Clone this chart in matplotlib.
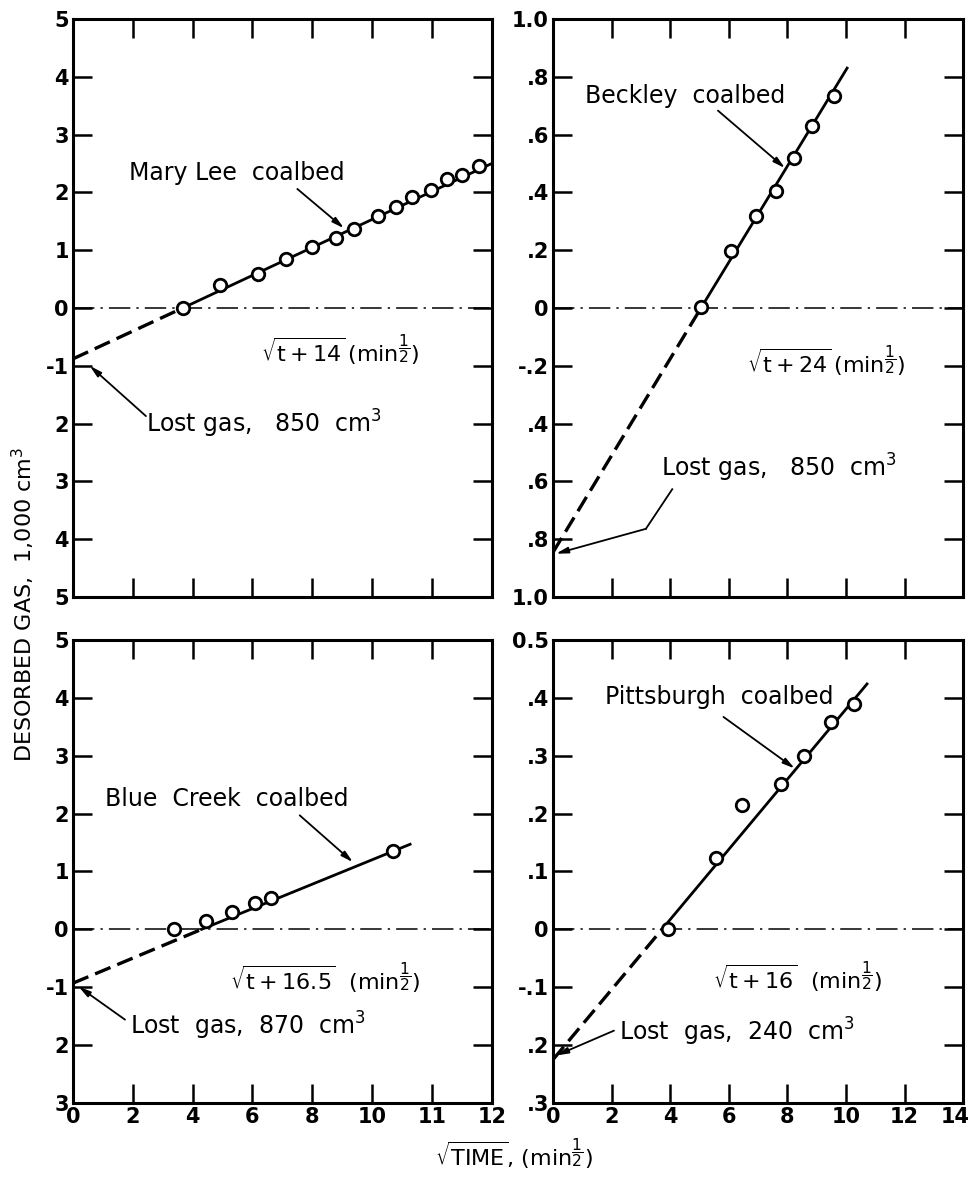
import matplotlib
matplotlib.use('Agg')
import matplotlib.pyplot as plt
import matplotlib.transforms as mtransforms

plt.rcParams['font.family'] = 'DejaVu Sans'
plt.rcParams['mathtext.fontset'] = 'dejavusans'

# ---- data ----
# Mary Lee coalbed, sqrt(t+14)
mary_x = [3.67, 4.9, 6.19, 7.12, 8.0, 8.78, 9.39, 10.19, 10.8, 11.33, 11.97, 12.52, 13.0, 13.58]
mary_y = [0.0, 0.39, 0.59, 0.84, 1.05, 1.21, 1.36, 1.59, 1.75, 1.92, 2.04, 2.23, 2.30, 2.46]
mary_fit_x = [0.0, 3.67, 14.0]
mary_fit_y = [-0.88, 0.0, 2.5]

# Beckley coalbed, sqrt(t+24)
beck_x = [5.05, 6.08, 6.92, 7.6, 8.22, 8.83, 9.6]
beck_y = [0.004, 0.196, 0.319, 0.406, 0.519, 0.63, 0.735]
beck_fit_x = [0.0, 5.05, 10.04]
beck_fit_y = [-0.845, 0.0, 0.83]

# Blue Creek coalbed, sqrt(t+16.5)
blue_x = [3.39, 4.44, 5.3, 6.08, 6.63, 10.69]
blue_y = [0.0, 0.14, 0.30, 0.45, 0.55, 1.36]
blue_fit_x = [0.0, 4.3, 11.27]
blue_fit_y = [-0.93, 0.0, 1.47]

# Pittsburgh coalbed, sqrt(t+16)
pitt_x = [3.92, 5.57, 6.44, 7.79, 8.57, 9.48, 10.27]
pitt_y = [0.0, 0.123, 0.215, 0.251, 0.30, 0.358, 0.389]
pitt_fit_x = [0.0, 3.72, 10.72]
pitt_fit_y = [-0.225, 0.0, 0.424]

xticks = [0, 2, 4, 6, 8, 10, 12, 14]
xlabels_left = ['0', '2', '4', '6', '8', '10', '11', '12']
xlabels_right = ['0', '2', '4', '6', '8', '10', '12', '14']

yt_tl = [5, 4, 3, 2, 1, 0, -1, -2, -3, -4, -5]
yl_tl = ['5', '4', '3', '2', '1', '0', '-1', '2', '3', '4', '5']
yt_tr = [1.0, 0.8, 0.6, 0.4, 0.2, 0, -0.2, -0.4, -0.6, -0.8, -1.0]
yl_tr = ['1.0', '.8', '.6', '.4', '.2', '0', '-.2', '.4', '.6', '.8', '1.0']
yt_bl = [5, 4, 3, 2, 1, 0, -1, -2, -3]
yl_bl = ['5', '4', '3', '2', '1', '0', '-1', '2', '3']
yt_br = [0.5, 0.4, 0.3, 0.2, 0.1, 0, -0.1, -0.2, -0.3]
yl_br = ['0.5', '.4', '.3', '.2', '.1', '0', '-.1', '.2', '.3']

FS = 17
ARROW = dict(arrowstyle='-|>,head_width=0.18,head_length=0.7', lw=1.3,
             color='black', shrinkA=0, shrinkB=0)
HALF = r'(\mathrm{min}^{\dfrac{1}{2}})'


def panel(ax, px, py, fx, fy, yt, yl, xl):
    ax.set_xlim(0, 14)
    ax.set_ylim(yt[-1], yt[0])
    # zero reference line
    ax.axhline(0, color='black', lw=1.1, ls=(0, (14, 4, 1.5, 4)), zorder=1)
    # extrapolated (dashed) and measured (solid) part of the fit
    ax.plot(fx[:2], fy[:2], color='black', lw=2.4, ls=(0, (5, 2.2)), zorder=2)
    ax.plot(fx[1:], fy[1:], color='black', lw=2.0, zorder=2)
    ax.plot(px, py, 'o', ms=9, mfc='white', mec='black', mew=2.0, zorder=3)
    ax.set_xticks(xticks)
    ax.set_yticks(yt)
    ax.set_yticklabels(yl, fontsize=15, fontweight='bold')
    if xl is None:
        ax.set_xticklabels([])
    else:
        ax.set_xticklabels(xl, fontsize=15, fontweight='bold')
    ax.tick_params(direction='in', length=14, width=1.8, top=True, right=True, pad=3)
    for s in ax.spines.values():
        s.set_linewidth(2.2)


fig = plt.figure(figsize=(9.74, 11.86), dpi=100)
ax_tl = fig.add_axes([0.0749, 0.4966, 0.430, 0.4874])
ax_tr = fig.add_axes([0.5678, 0.4966, 0.421, 0.4874])
ax_bl = fig.add_axes([0.0749, 0.0700, 0.430, 0.3904])
ax_br = fig.add_axes([0.5678, 0.0700, 0.421, 0.3904])

panel(ax_tl, mary_x, mary_y, mary_fit_x, mary_fit_y, yt_tl, yl_tl, None)
panel(ax_tr, beck_x, beck_y, beck_fit_x, beck_fit_y, yt_tr, yl_tr, None)
panel(ax_bl, blue_x, blue_y, blue_fit_x, blue_fit_y, yt_bl, yl_bl, xlabels_left)
panel(ax_br, pitt_x, pitt_y, pitt_fit_x, pitt_fit_y, yt_br, yl_br, xlabels_right)

# keep the "14" inside the picture
last = ax_br.get_xticklabels()[-1]
last.set_transform(last.get_transform() + mtransforms.ScaledTranslation(-6 / 72, 0, fig.dpi_scale_trans))

# Mary Lee
ax_tl.text(1.89, 2.22, 'Mary Lee  coalbed', fontsize=FS, va='baseline')
ax_tl.annotate('', xy=(9.06, 1.38), xytext=(7.5, 2.06), arrowprops=ARROW)
ax_tl.text(6.28, -0.94, r'$\sqrt{\mathrm{t+14}}\,' + HALF + '$', fontsize=FS - 1, va='baseline')
ax_tl.text(2.44, -2.15, 'Lost gas,   850  cm$^3$', fontsize=FS, va='baseline')
ax_tl.annotate('', xy=(0.56, -1.0), xytext=(2.44, -1.87), arrowprops=ARROW)

# Beckley
ax_tr.text(1.1, 0.708, 'Beckley  coalbed', fontsize=FS, va='baseline')
ax_tr.annotate('', xy=(7.92, 0.484), xytext=(5.63, 0.683), arrowprops=ARROW)
ax_tr.text(6.63, -0.224, r'$\sqrt{\mathrm{t+24}}\,' + HALF + '$', fontsize=FS - 1, va='baseline')
ax_tr.text(3.68, -0.584, 'Lost gas,   850  cm$^3$', fontsize=FS, va='baseline')
ax_tr.plot([4.07, 3.17], [-0.627, -0.764], color='black', lw=1.3)
ax_tr.annotate('', xy=(0.1, -0.85), xytext=(3.17, -0.764), arrowprops=ARROW)

# Blue Creek
ax_bl.text(1.08, 2.13, 'Blue  Creek  coalbed', fontsize=FS, va='baseline')
ax_bl.annotate('', xy=(9.36, 1.16), xytext=(7.58, 1.97), arrowprops=ARROW)
ax_bl.text(5.24, -1.05, r'$\sqrt{\mathrm{t+16.5}}\ \ ' + HALF + '$', fontsize=FS - 1, va='baseline')
ax_bl.text(1.91, -1.82, 'Lost  gas,  870  cm$^3$', fontsize=FS, va='baseline')
ax_bl.annotate('', xy=(0.19, -0.99), xytext=(1.74, -1.56), arrowprops=ARROW)

# Pittsburgh
ax_br.text(1.77, 0.389, 'Pittsburgh  coalbed', fontsize=FS, va='baseline')
ax_br.annotate('', xy=(8.25, 0.278), xytext=(5.82, 0.367), arrowprops=ARROW)
ax_br.text(5.46, -0.103, r'$\sqrt{\mathrm{t+16}}\ \ ' + HALF + '$', fontsize=FS - 1, va='baseline')
ax_br.text(2.25, -0.192, 'Lost  gas,  240  cm$^3$', fontsize=FS, va='baseline')
ax_br.annotate('', xy=(0.11, -0.218), xytext=(2.08, -0.175), arrowprops=ARROW)

fig.text(0.024, 0.49, 'DESORBED GAS,  1,000 cm$^3$', rotation=90, fontsize=16,
         ha='center', va='center')
fig.text(0.528, 0.012, r'$\sqrt{\mathrm{TIME}}$, $' + HALF + '$', fontsize=16,
         ha='center', va='bottom')

fig.savefig('out.png', dpi=100)
